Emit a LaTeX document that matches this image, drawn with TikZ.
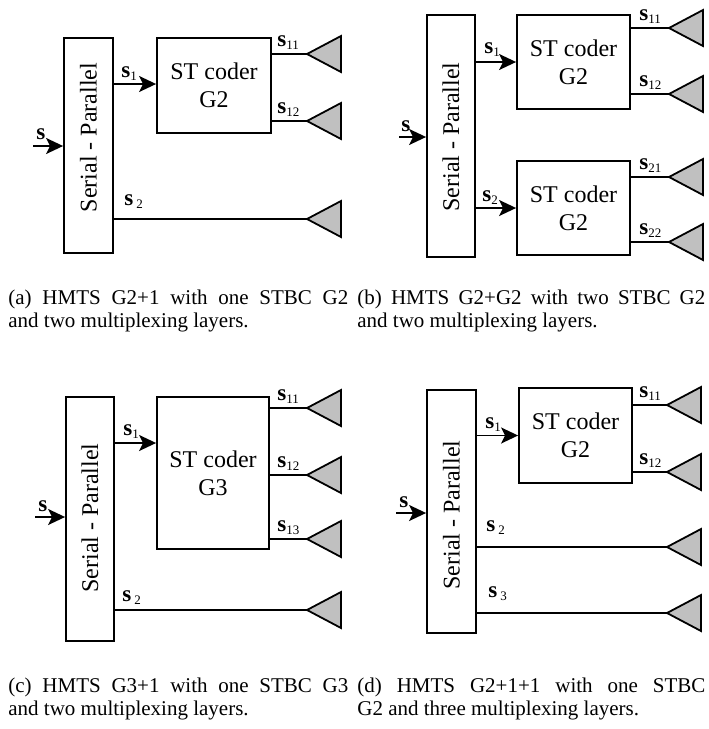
\documentclass[tikz,border=0pt]{standalone}
\usepackage{fontspec}
\setmainfont{Liberation Serif}
\usetikzlibrary{arrows.meta, positioning}
\definecolor{AntGray}{HTML}{C0C0C0}

\newcommand{\sig}[1]{\textbf{s}\raisebox{-0.3ex}{\fontsize{6.5pt}{7pt}\selectfont #1}}

\tikzset{
  blk/.style={draw, line width=0.9pt, inner sep=0pt, align=center, font=\fontsize{12pt}{14pt}\selectfont},
  sptext/.style={rotate=90, inner sep=0pt, font=\fontsize{12pt}{14pt}\selectfont},
  sgl/.style={anchor=south west, inner sep=0pt, font=\fontsize{11.5pt}{12pt}\selectfont},
  sarr/.style={line width=0.9pt, -{Stealth[length=8.5pt, width=8pt, inset=2pt]}},
  wire/.style={line width=0.9pt},
  capt/.style={anchor=north west, inner sep=0pt, align=justify, font=\fontsize{10.5pt}{11.4pt}\selectfont},
  ant/.pic={\filldraw[fill=AntGray, line width=0.9pt, line join=miter] (0,0) -- (34,-18) -- (34,18) -- cycle;}
}

\begin{document}
\begin{tikzpicture}[x=0.5pt, y=-0.5pt]
  \useasboundingbox (0,0) rectangle (708,729);
  % (a)
  \node[blk, minimum width=24.5pt, minimum height=107.5pt] (spa) at (88.5,145.5) {};
  \node[sptext] (spta) at (88.5,137.5) {Serial - Parallel};
  \node[blk, minimum width=57pt, minimum height=47.5pt] (coda) at (214,85.5) {ST coder\\G2};
  \coordinate (ina) at (33,146);
  \draw[sarr] (ina) -- (spa.west |- ina);
  \node[sgl] (sa) at (36,140) {\textbf{s}};
  \draw[sarr] (spa.east |- 0,84) -- (coda.west |- 0,84);
  \node[sgl] (sa1) at (121,81) {\sig{1}};
  \coordinate (a11a) at (307,54);
  \coordinate (a12a) at (307,121);
  \coordinate (a2a) at (307,219);
  \draw[wire] (coda.east |- a11a) -- (a11a) pic {ant};
  \draw[wire] (coda.east |- a12a) -- (a12a) pic {ant};
  \draw[wire] (spa.east |- a2a) -- (a2a) pic {ant};
  \node[sgl] (sa11) at (277,50) {\sig{11}};
  \node[sgl] (sa12) at (277,117) {\sig{12}};
  \node[sgl] (sa2) at (124,209) {\sig{\hspace{1.5pt}2}};
  \node[capt, text width=170pt] (capa) at (8,290)
    {(a) HMTS G2+1 with one STBC G2\linebreak and two multiplexing layers.};

  % (b)
  \node[blk, minimum width=24pt, minimum height=121pt] (spb) at (451,136) {};
  \node[sptext] (sptb) at (451,137) {Serial - Parallel};
  \node[blk, minimum width=56.5pt, minimum height=47pt] (codb1) at (573.5,62) {ST coder\\G2};
  \node[blk, minimum width=56.5pt, minimum height=47pt] (codb2) at (573.5,208) {ST coder\\G2};
  \coordinate (inb) at (399,137);
  \draw[sarr] (inb) -- (spb.west |- inb);
  \node[sgl] (sb) at (401,132) {\textbf{s}};
  \draw[sarr] (spb.east |- codb1) -- (codb1.west);
  \draw[sarr] (spb.east |- codb2) -- (codb2.west);
  \node[sgl] (sb1) at (484,57) {\sig{1}};
  \node[sgl] (sb2) at (482,205) {\sig{2}};
  \coordinate (a11b) at (669,28);
  \coordinate (a12b) at (669,94);
  \coordinate (a21b) at (669,177);
  \coordinate (a22b) at (669,242);
  \draw[wire] (codb1.east |- a11b) -- (a11b) pic {ant};
  \draw[wire] (codb1.east |- a12b) -- (a12b) pic {ant};
  \draw[wire] (codb2.east |- a21b) -- (a21b) pic {ant};
  \draw[wire] (codb2.east |- a22b) -- (a22b) pic {ant};
  \node[sgl] (sb11) at (639,24) {\sig{11}};
  \node[sgl] (sb12) at (639,90) {\sig{12}};
  \node[sgl] (sb21) at (639,173) {\sig{21}};
  \node[sgl] (sb22) at (639,238) {\sig{22}};
  \node[capt, text width=174pt] (capb) at (357,290)
    {(b) HMTS G2+G2 with two STBC G2\linebreak and two multiplexing layers.};

  % (c)
  \node[blk, minimum width=24pt, minimum height=122pt] (spc) at (90,519) {};
  \node[sptext] (sptc) at (90,518) {Serial - Parallel};
  \node[blk, minimum width=56pt, minimum height=76pt] (codc) at (213,473) {ST coder\\G3};
  \coordinate (inc) at (35,517);
  \draw[sarr] (inc) -- (spc.west |- inc);
  \node[sgl] (sc) at (38,512) {\textbf{s}};
  \draw[sarr] (spc.east |- 0,443) -- (codc.west |- 0,443);
  \node[sgl] (sc1) at (123,439) {\sig{1}};
  \coordinate (a11c) at (307,408);
  \coordinate (a12c) at (307,475);
  \coordinate (a13c) at (307,539);
  \coordinate (a2c) at (307,610);
  \draw[wire] (codc.east |- a11c) -- (a11c) pic {ant};
  \draw[wire] (codc.east |- a12c) -- (a12c) pic {ant};
  \draw[wire] (codc.east |- a13c) -- (a13c) pic {ant};
  \draw[wire] (spc.east |- a2c) -- (a2c) pic {ant};
  \node[sgl] (sc11) at (277,404) {\sig{11}};
  \node[sgl] (sc12) at (277,471) {\sig{12}};
  \node[sgl] (sc13) at (277,535) {\sig{13}};
  \node[sgl] (sc2) at (122,605) {\sig{\hspace{1.5pt}2}};
  \node[capt, text width=170pt] (capc) at (8,678)
    {(c) HMTS G3+1 with one STBC G3\linebreak and two multiplexing layers.};

  % (d)
  \node[blk, minimum width=24.5pt, minimum height=121.5pt] (spd) at (451.5,511.5) {};
  \node[sptext] (sptd) at (451.5,515) {Serial - Parallel};
  \node[blk, minimum width=56.5pt, minimum height=47.5pt] (codd) at (575.5,435.5) {ST coder\\G2};
  \coordinate (ind) at (396,513);
  \draw[sarr] (ind) -- (spd.west |- ind);
  \node[sgl] (sd) at (399,508) {\textbf{s}};
  \draw[sarr] (spd.east |- codd) -- (codd.west);
  \node[sgl] (sd1) at (485,432) {\sig{1}};
  \coordinate (a11d) at (667,405);
  \coordinate (a12d) at (667,472);
  \coordinate (a2d) at (667,547);
  \coordinate (a3d) at (667,613);
  \draw[wire] (codd.east |- a11d) -- (a11d) pic {ant};
  \draw[wire] (codd.east |- a12d) -- (a12d) pic {ant};
  \draw[wire] (spd.east |- a2d) -- (a2d) pic {ant};
  \draw[wire] (spd.east |- a3d) -- (a3d) pic {ant};
  \node[sgl] (sd11) at (639,401) {\sig{11}};
  \node[sgl] (sd12) at (639,468) {\sig{12}};
  \node[sgl] (sd2) at (486,535) {\sig{\hspace{1.5pt}2}};
  \node[sgl] (sd3) at (488,601) {\sig{\hspace{1.5pt}3}};
  \node[capt, text width=174pt] (capd) at (357,678)
    {(d) HMTS G2+1+1 with one STBC\linebreak G2 and three multiplexing layers.};
\end{tikzpicture}
\end{document}
